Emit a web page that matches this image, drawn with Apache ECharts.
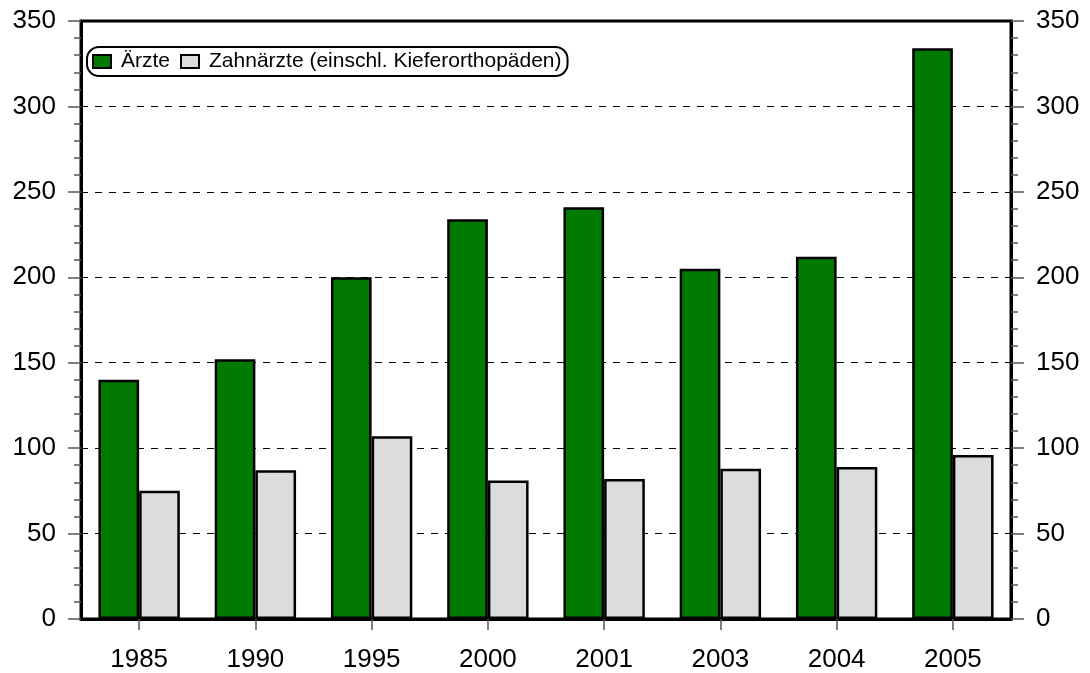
<!DOCTYPE html>
<html><head><meta charset="utf-8">
<script src="https://cdn.jsdelivr.net/npm/echarts@6/dist/echarts.min.js"></script>
<style>html,body{margin:0;padding:0;background:#fff}#c{width:1090px;height:673px}</style>
</head><body><div id="c"></div>
<script>
const categories = ['1985','1990','1995','2000','2001','2003','2004','2005'];
const aerzte = [140, 152, 200, 234, 241, 205, 212, 334];
const zahnaerzte = [75, 87, 107, 81, 82, 88, 89, 96];
const seriesNames = ['Ärzte', 'Zahnärzte (einschl. Kieferorthopäden)'];

const font = 'Liberation Sans, Arial, sans-serif';
function yAxis(pos){
  return {
    type:'value', position:pos, min:0, max:350, interval:50,
    axisLine:{show:true, lineStyle:{color:'#000', width:3}},
    axisTick:{show:true, length:13, lineStyle:{color:'#555', width:1.5}},
    minorTick:{show:true, splitNumber:5, length:7, lineStyle:{color:'#555', width:1.5}},
    splitLine:{show: pos==='left', lineStyle:{color:'#000', type:[7,7], width:1}},
    axisLabel:{color:'#000', fontSize:26, fontFamily:font, margin:25}
  };
}
const chart = echarts.init(document.getElementById('c'));
chart.setOption({
  animation:false,
  grid:{left:81, right:79, top:21, bottom:52, show:true, borderColor:'#000', borderWidth:3, backgroundColor:'transparent'},
  legend:{
    left:87, top:47, orient:'horizontal',
    data:seriesNames,
    icon:'rect', itemWidth:18, itemHeight:13, itemGap:10,
    borderColor:'#000', borderWidth:2, borderRadius:12,
    padding:[4,6,4,5],
    textStyle:{color:'#000', fontSize:21, fontFamily:font, padding:[0,0,0,5]}
  },
  xAxis:{
    type:'category', data:categories,
    axisLine:{show:true, lineStyle:{color:'#000', width:3}},
    axisTick:{show:true, alignWithLabel:true, length:11, lineStyle:{color:'#555', width:1.5}, inside:false},
    axisLabel:{color:'#000', fontSize:26, fontFamily:font, margin:28},
    splitLine:{show:false}
  },
  yAxis:[yAxis('left'), yAxis('right')],
  series:[
    {name:seriesNames[0], type:'bar', data:aerzte, barGap:'0%', barCategoryGap:'30%',
     itemStyle:{color:'#007a00', borderColor:'#000', borderWidth:2.5}},
    {name:seriesNames[1], type:'bar', data:zahnaerzte, barGap:'0%', barCategoryGap:'30%',
     itemStyle:{color:'#dcdcdc', borderColor:'#000', borderWidth:2.5}}
  ]
});
</script></body></html>
